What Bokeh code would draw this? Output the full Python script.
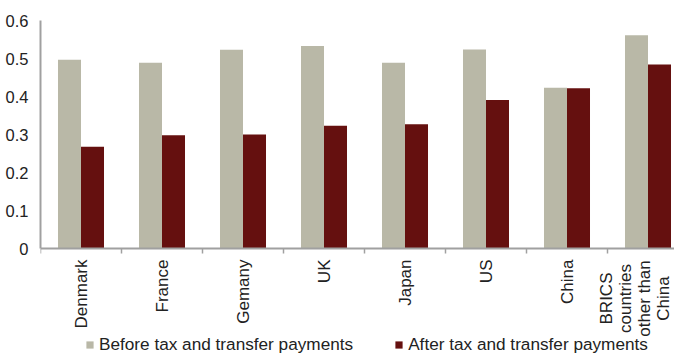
import math
from bokeh.plotting import figure
from bokeh.models import ColumnDataSource, Range1d, FixedTicker, Legend, LegendItem
from bokeh.core.properties import value
from bokeh.embed import file_html
from bokeh.resources import INLINE

categories = ["Denmark", "France", "Gemany", "UK", "Japan", "US", "China",
              "BRICS\ncountries\nother than\nChina"]
before_tax = [0.497, 0.489, 0.523, 0.533, 0.489, 0.524, 0.423, 0.561]
after_tax = [0.268, 0.298, 0.300, 0.323, 0.327, 0.391, 0.422, 0.484]
y_ticks = [0, 0.1, 0.2, 0.3, 0.4, 0.5, 0.6]
series_names = ["Before tax and transfer payments", "After tax and transfer payments"]
series_colors = ["#b9b8a7", "#65100f"]

n = len(categories)
centers = [i + 0.5 for i in range(n)]
bw = 0.284
src = ColumnDataSource(dict(
    xb=[c - bw / 2 for c in centers],
    xa=[c + bw / 2 for c in centers],
    before=before_tax,
    after=after_tax,
))

FONT = "Liberation Sans"
GRAY_AX = "#a0a0a0"
TXT = "#222222"

# layout (screen px)
W, H = 674, 355
LEFT, TOP = 40, 20
ZERO_PX = 248          # screen y of value 0
CAT_PX = 81            # px per category
px_per_unit = (ZERO_PX - TOP) / 0.6
y_start = 0.6 - (H - TOP) / px_per_unit

p = figure(width=W, height=H, output_backend="svg", toolbar_location=None,
           x_range=Range1d(0, (W - LEFT) / CAT_PX), y_range=Range1d(y_start, 0.6),
           min_border_left=LEFT, min_border_right=0, min_border_top=TOP,
           min_border_bottom=0)
p.outline_line_color = None
p.xgrid.visible = False
p.ygrid.visible = False

r1 = p.vbar(x="xb", top="before", width=bw, source=src,
            fill_color=series_colors[0], line_color=None)
r2 = p.vbar(x="xa", top="after", width=bw, source=src,
            fill_color=series_colors[1], line_color=None)

# x axis drawn at value 0
xa = p.xaxis[0]
xa.fixed_location = 0
xa.ticker = FixedTicker(ticks=centers, minor_ticks=list(range(n + 1)))
labels = [c if "\n" not in c else "" for c in categories]
xa.major_label_overrides = {c: lab for c, lab in zip(centers, labels)}
xa.major_label_orientation = math.pi / 2
xa.major_tick_line_color = None
xa.minor_tick_line_color = GRAY_AX
xa.minor_tick_line_width = 1.5
xa.minor_tick_out = 5
xa.minor_tick_in = 0
xa.axis_line_color = GRAY_AX
xa.axis_line_width = 2
xa.major_label_text_font = FONT
xa.major_label_text_font_size = "17px"
xa.major_label_text_color = TXT
xa.major_label_standoff = 5

# multi-line category label (lines centred, as in the original); nudged left
# and set tighter so its last line stays inside the plot's right edge
ml_idx = [i for i, c in enumerate(categories) if "\n" in c]
ml_src = ColumnDataSource(dict(
    x=[centers[i] - 13 / CAT_PX for i in ml_idx],
    y=[-50 / px_per_unit for _ in ml_idx],
    t=[categories[i] for i in ml_idx],
))
p.text(x="x", y="y", text="t", source=ml_src, angle=math.pi / 2,
       text_align="center", text_baseline="middle",
       text_font=value(FONT), text_font_size="17px", text_color=TXT,
       text_line_height=1.0)

# y axis
ya = p.yaxis[0]
ya.bounds = (0, 0.6)
ya.ticker = FixedTicker(ticks=y_ticks, minor_ticks=[])
ya.major_label_overrides = {0: "0"}
ya.major_tick_line_color = None
ya.minor_tick_line_color = None
ya.axis_line_color = GRAY_AX
ya.axis_line_width = 2
ya.major_label_text_font = FONT
ya.major_label_text_font_size = "16.5px"
ya.major_label_text_color = TXT
ya.major_label_standoff = 6

legend = Legend(items=[
    LegendItem(label=series_names[0], renderers=[r1]),
    LegendItem(label=series_names[1], renderers=[r2]),
], orientation="horizontal", location=(45, 0))
legend.glyph_width = 9
legend.glyph_height = 9
legend.label_standoff = 5
legend.spacing = 41
legend.padding = 0
legend.margin = 0
legend.label_height = 18
legend.label_text_font = FONT
legend.label_text_font_size = "17.2px"
legend.label_text_color = TXT
legend.background_fill_alpha = 0
legend.border_line_color = None
p.add_layout(legend, "center")

open("out.html", "w").write(file_html(p, INLINE))
